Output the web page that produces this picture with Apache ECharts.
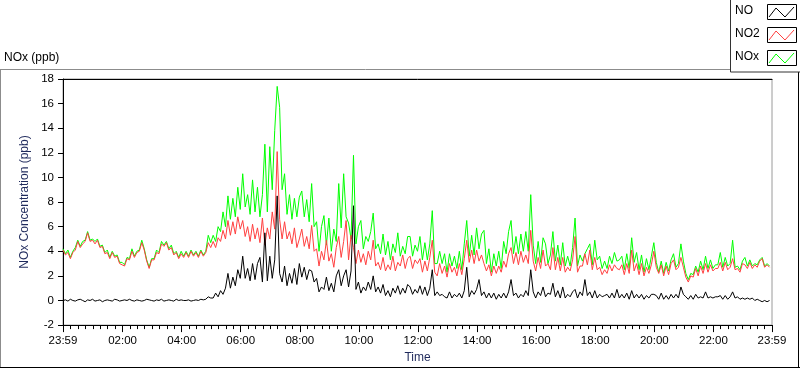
<!DOCTYPE html>
<html><head><meta charset="utf-8">
<script src="https://cdn.jsdelivr.net/npm/echarts@6/dist/echarts.min.js"></script>
<style>html,body{margin:0;padding:0;background:#fff}#c{width:800px;height:369px}</style>
</head><body><div id="c"></div>
<script>
// time grid: minutes after midnight, first sample at 23:59 of the previous day
const startMin = -1;
const stepMin = 5;

const seriesNames = ['NO', 'NO2', 'NOx'];

const no = [
0.0,0.05,-0.05,0.1,0.0,-0.05,0.05,0.1,0.0,-0.1,
0.05,0.0,0.1,-0.05,0.0,0.05,-0.1,0.0,0.05,0.0,
-0.05,0.1,0.05,-0.05,0.0,0.05,0.0,0.1,0.0,-0.05,
0.05,0.0,-0.05,0.0,0.1,0.05,0.0,-0.05,0.05,0.0,
0.1,-0.05,0.0,0.05,0.0,-0.05,0.1,0.0,0.05,0.0,
0.0,0.05,-0.05,0.0,0.05,0.0,0.1,0.05,0.1,0.3,0.2,
0.2,0.6,0.3,0.8,0.5,1.0,2.2,1.0,1.9,1.2,
2.5,1.8,3.6,1.8,2.6,1.6,3.0,1.7,3.0,3.5,
1.5,5.5,1.6,3.6,1.8,3.3,8.5,2.2,1.5,2.8,
1.2,2.2,1.4,2.6,1.3,3.0,1.9,2.7,1.7,2.5,
2.4,1.5,1.8,0.7,1.1,0.9,1.9,0.8,1.4,0.7,
2.0,2.5,1.2,2.0,2.5,1.1,2.4,7.7,0.9,1.5,
0.6,1.1,0.8,1.5,0.9,2.0,0.7,1.1,0.6,1.3,
0.4,0.8,0.3,1.0,0.6,1.2,0.5,1.0,0.6,1.3,
1.1,0.5,0.9,0.6,1.2,0.5,1.1,0.4,1.0,2.5,
0.4,0.7,0.4,0.5,0.3,0.2,0.7,0.2,0.5,0.3,
0.6,0.2,0.8,2.7,0.3,0.8,0.5,0.9,1.7,0.4,
0.7,0.2,0.6,0.2,0.6,0.1,0.5,0.2,0.6,0.2,
0.7,1.7,0.4,0.6,0.2,0.5,0.3,0.8,0.4,2.5,
0.7,0.2,0.7,0.4,1.1,0.3,0.6,0.5,1.4,0.3,
0.8,0.2,1.1,0.2,0.5,0.3,0.7,0.9,0.2,0.7,
0.4,1.7,0.4,0.7,0.2,0.8,0.2,0.5,0.3,0.4,
0.5,0.2,0.6,0.2,0.9,0.2,0.5,0.2,0.6,0.1,
0.8,0.2,0.5,0.2,0.5,0.1,0.4,0.2,0.5,0.5,
0.4,0.1,0.6,0.1,0.4,0.1,0.5,0.2,0.5,0.2,
1.1,0.5,0.3,0.1,0.4,0.1,0.5,0.2,0.3,0.2,
0.7,0.2,0.3,0.2,0.3,0.3,0.4,0.1,0.4,0.1,
0.3,0.7,0.2,0.3,0.1,0.2,0.1,0.2,0.1,0.2,
0.0,0.1,0.0,-0.1,0.0,-0.1,0.0
];

const no2 = [
4.1,3.7,3.9,3.4,3.9,4.1,4.8,4.3,4.6,4.8,
5.5,4.8,4.9,4.6,4.9,4.3,4.4,3.8,3.9,3.4,
3.9,3.5,3.6,3.0,2.9,2.8,3.4,3.3,4.0,3.5,
3.9,4.0,4.7,4.1,3.2,2.6,3.3,3.3,3.9,3.8,
4.6,4.4,4.7,4.1,4.3,3.7,3.9,3.4,3.8,3.5,
3.9,3.5,4.0,3.6,3.9,3.5,4.0,3.6,3.9,4.7,4.3,
4.8,4.3,5.1,4.8,5.7,5.0,6.5,5.3,6.4,5.4,
6.8,5.8,6.5,5.2,6.0,4.8,6.2,5.0,5.9,4.7,
6.7,4.5,5.9,5.0,7.2,5.8,12.1,6.6,5.0,6.4,
5.0,5.6,4.6,5.9,4.3,5.0,5.8,4.4,5.2,4.2,
6.1,4.0,4.2,2.8,4.0,3.3,4.9,3.2,3.8,2.7,
4.3,5.2,3.5,4.8,6.5,3.3,5.3,4.3,3.0,4.1,
3.1,3.8,2.9,4.0,3.3,4.9,2.8,3.1,2.5,3.5,
2.4,2.9,2.5,3.6,2.4,3.1,2.8,3.7,2.6,3.4,
3.6,2.6,3.3,3.0,3.4,2.3,3.2,2.4,3.5,4.9,
2.3,2.0,3.0,2.2,2.8,1.9,3.0,2.3,2.7,2.0,
3.0,2.1,3.4,4.9,3.1,4.1,3.0,4.1,3.2,3.7,
3.0,2.4,2.9,2.0,2.8,2.2,2.8,2.3,3.2,2.7,
3.8,4.3,3.0,3.9,2.9,4.0,3.1,3.7,3.0,5.7,
3.2,2.4,3.5,2.6,4.1,2.8,3.0,2.5,4.3,2.5,
3.5,2.4,3.5,2.3,2.7,2.4,3.3,5.2,2.3,2.8,
2.8,3.8,2.9,4.1,2.5,3.5,2.5,2.7,2.1,2.5,
2.2,2.9,2.4,2.9,2.6,2.5,2.9,2.1,3.0,2.2,
4.1,2.4,3.0,2.1,3.0,2.0,2.7,2.2,2.9,4.0,
2.7,2.2,2.9,2.0,2.8,2.1,3.0,3.3,2.5,2.7,
3.5,2.7,1.9,1.5,2.0,1.9,2.6,2.0,2.8,2.2,
3.0,2.3,2.9,2.4,2.6,2.6,3.1,2.4,3.1,2.5,
2.7,3.4,2.5,2.6,2.3,3.0,2.9,2.6,3.1,2.6,
2.9,2.7,3.2,3.4,2.7,2.9,2.7
];

const nox = [
4.2,3.8,4.1,3.5,4.0,4.3,4.9,4.4,4.8,4.9,
5.6,4.9,5.0,4.8,5.0,4.4,4.5,3.9,4.1,3.5,
4.0,3.6,3.7,3.1,3.1,2.9,3.5,3.4,4.2,3.6,
4.0,4.1,4.9,4.2,3.3,2.7,3.4,3.4,4.1,3.9,
4.8,4.5,4.8,4.2,4.5,3.8,4.0,3.5,4.0,3.6,
4.0,3.6,4.1,3.7,4.0,3.6,4.1,3.7,4.0,5.3,4.7,
5.3,4.8,6.0,5.6,7.2,6.0,8.5,6.6,8.3,6.8,
9.2,7.4,10.3,7.6,8.6,7.0,9.8,7.2,9.2,6.8,
8.6,12.7,7.2,12.5,9.0,13.8,17.4,15.7,9.0,10.3,
7.0,8.6,6.6,8.3,6.8,8.4,8.9,6.8,8.2,6.4,
9.5,6.0,6.4,4.0,6.0,6.9,4.5,6.7,4.0,5.8,
4.8,9.5,5.9,10.3,6.8,6.3,5.0,11.8,4.6,6.0,
6.5,4.2,5.2,4.8,5.6,7.1,4.2,4.6,3.8,5.4,
3.7,4.8,3.3,4.6,3.9,5.5,3.6,4.4,3.8,5.2,
5.2,3.6,4.5,4.0,5.2,3.3,4.7,3.3,4.6,7.3,
3.0,3.0,4.0,3.0,3.8,2.3,3.8,2.8,3.6,2.6,
4.0,2.5,4.6,6.5,3.6,5.3,3.7,5.9,4.2,5.4,
5.7,3.0,4.2,2.3,3.8,2.8,4.0,2.6,4.8,3.8,
5.6,6.5,3.8,5.2,3.8,5.4,4.0,5.6,4.0,8.6,
4.5,3.0,4.8,3.1,5.1,4.6,3.0,3.7,5.6,3.2,
4.5,2.9,4.7,2.8,3.6,2.8,4.3,6.7,2.8,3.7,
3.2,3.8,4.2,4.6,2.9,4.9,3.3,3.6,2.6,3.2,
2.6,3.6,3.0,3.9,3.2,3.3,3.6,2.5,3.8,2.6,
5.1,3.1,3.9,2.5,3.7,2.3,3.4,2.5,3.6,4.7,
3.1,2.3,3.2,2.2,3.1,2.4,3.3,3.8,2.7,3.0,
4.6,3.2,2.2,1.7,2.2,2.1,2.8,2.3,3.2,2.5,
3.6,2.6,3.3,2.6,2.9,2.9,3.9,2.7,3.5,2.8,
3.0,4.9,2.7,2.8,2.5,3.2,3.5,2.8,3.3,2.8,
3.0,2.9,3.3,3.5,2.8,3.0,2.8
];

const tickValues = [-1,120,240,360,480,600,720,840,960,1080,1200,1320,1439];
const tickLabels = ['23:59','02:00','04:00','06:00','08:00','10:00','12:00','14:00','16:00','18:00','20:00','22:00','23:59'];

const colors = { NO: '#000000', NO2: '#ff4040', NOx: '#00ff00' };
const FONT = 'Liberation Sans';

function pairs(arr) { return arr.map((v, i) => [startMin + i * stepMin, v]); }

const minorTicks = [];
for (let k = 0; k < tickValues.length - 1; k++) {
  const a = tickValues[k], b = tickValues[k + 1];
  for (let j = 0; j <= 8; j++) minorTicks.push(a + (b - a) * j / 8);
}

const chart = echarts.init(document.getElementById('c'), null, { renderer: 'canvas' });

function legendItem(idx, name, color) {
  const y0 = 4 + idx * 23;
  return [
    { type: 'text', left: 735, top: y0 + 1, style: { text: name, font: '12px "' + FONT + '"', fill: '#000' }, z: 101 },
    { type: 'rect', shape: { x: 767.5, y: y0 + 0.5, width: 29, height: 15 }, style: { fill: '#fff', stroke: '#000', lineWidth: 1 }, z: 101 },
    { type: 'polyline', shape: { points: [[769, y0 + 13], [776, y0 + 4], [785, y0 + 13], [794, y0 + 3]] }, style: { stroke: color, lineWidth: 1, fill: null }, z: 102 }
  ];
}

const graphics = [
  { type: 'line', shape: { x1: 0, y1: 69.5, x2: 731, y2: 69.5 }, style: { stroke: '#8c8c8c', lineWidth: 1 }, z: 50 },
  { type: 'line', shape: { x1: 0.5, y1: 69, x2: 0.5, y2: 368 }, style: { stroke: '#8c8c8c', lineWidth: 1 }, z: 50 },
  { type: 'line', shape: { x1: 0, y1: 367.5, x2: 800, y2: 367.5 }, style: { stroke: '#000', lineWidth: 1 }, z: 50 },
  { type: 'line', shape: { x1: 798.5, y1: 72, x2: 798.5, y2: 368 }, style: { stroke: '#000', lineWidth: 1 }, z: 50 },
  { type: 'rect', shape: { x: 730.5, y: -5, width: 80, height: 77 }, style: { fill: '#fff', stroke: '#333', lineWidth: 1 }, z: 100 }
];
seriesNames.forEach((n, i) => graphics.push(...legendItem(i, n, colors[n])));

chart.setOption({
  animation: false,
  backgroundColor: '#fff',
  textStyle: { fontFamily: FONT },
  title: {
    text: 'NOx (ppb)', left: 4, top: 52, padding: 0,
    textStyle: { fontSize: 12, fontWeight: 'normal', color: '#000', fontFamily: FONT }
  },
  grid: { left: 63, top: 79, width: 709, height: 250, show: true, borderColor: '#9a9a9a', borderWidth: 1, backgroundColor: '#fff' },
  xAxis: [
    {
      type: 'value', min: -1, max: 1439,
      name: 'Time', nameLocation: 'middle', nameGap: 26,
      nameTextStyle: { fontSize: 12, color: '#1f2a5c', fontFamily: FONT },
      axisLine: { show: true, onZero: false, lineStyle: { color: '#000', width: 1 } },
      axisTick: { show: true, length: 7, customValues: tickValues, lineStyle: { color: '#000' } },
      axisLabel: {
        customValues: tickValues, margin: 10, fontSize: 11.5, color: '#000', fontFamily: FONT,
        formatter: v => { const k = tickValues.indexOf(v); return k >= 0 ? tickLabels[k] : ''; }
      },
      splitLine: { show: false }
    },
    {
      type: 'value', min: -1, max: 1439, position: 'bottom',
      axisLine: { show: false, onZero: false },
      axisTick: { show: true, length: 4, customValues: minorTicks, lineStyle: { color: '#000' } },
      axisLabel: { show: false },
      splitLine: { show: false }
    },
    {
      type: 'value', min: -1, max: 1439, position: 'top',
      axisLine: { show: true, onZero: false, lineStyle: { color: '#000', width: 1 } },
      axisTick: { show: false }, axisLabel: { show: false }, splitLine: { show: false }
    }
  ],
  yAxis: {
    type: 'value', min: -2, max: 18, interval: 2,
    name: 'NOx Concentration (ppb)', nameLocation: 'middle', nameGap: 25, nameRotate: 90,
    nameTextStyle: { fontSize: 12, color: '#1f2a5c', fontFamily: FONT },
    axisLine: { show: true, onZero: false, lineStyle: { color: '#000', width: 1 } },
    axisTick: { show: true, length: 5, lineStyle: { color: '#000' } },
    axisLabel: { margin: 9, fontSize: 11.5, color: '#000', fontFamily: FONT },
    splitLine: { show: false }
  },
  series: [
    { name: 'NOx', type: 'line', data: pairs(nox), showSymbol: false, symbol: 'none', lineStyle: { color: colors.NOx, width: 1 }, itemStyle: { color: colors.NOx }, z: 2 },
    { name: 'NO2', type: 'line', data: pairs(no2), showSymbol: false, symbol: 'none', lineStyle: { color: colors.NO2, width: 1 }, itemStyle: { color: colors.NO2 }, z: 3 },
    { name: 'NO', type: 'line', data: pairs(no), showSymbol: false, symbol: 'none', lineStyle: { color: colors.NO, width: 1 }, itemStyle: { color: colors.NO }, z: 4 }
  ],
  graphic: graphics
});
</script></body></html>
